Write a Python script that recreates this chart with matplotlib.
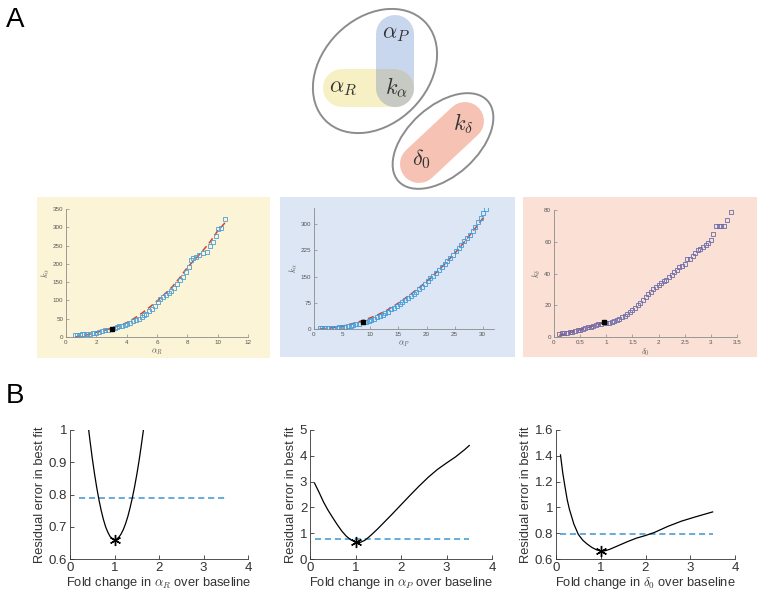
import matplotlib
matplotlib.use("Agg")
import matplotlib.pyplot as plt
from matplotlib.patches import Ellipse, Rectangle, Circle

plt.rcParams['font.family'] = ['Liberation Sans', 'DejaVu Sans']
plt.rcParams['mathtext.fontset'] = 'cm'

# ---------------- data: panel A scatter plots ----------------
aR_pts = [0.6, 0.75, 0.9, 1.05, 1.2, 1.4, 1.6, 1.8, 2.0, 2.2, 2.4, 2.6, 2.8, 3.2, 3.35, 3.5, 3.7, 3.9,
          4.05, 4.2, 4.4, 4.6, 4.8, 5.0, 5.15, 5.3, 5.5, 5.7, 5.9, 6.05, 6.2, 6.4, 6.6, 6.8, 6.95, 7.1,
          7.3, 7.5, 7.7, 7.9, 8.1, 8.25, 8.4, 8.6, 8.8, 9.0, 9.3, 9.5, 9.7, 9.9, 10.05, 10.2, 10.5]
kR_pts = [6, 6, 6, 7, 7, 8, 9, 10, 12, 14, 16, 18, 20, 24, 26, 29, 31, 34,
          36, 39, 43, 46, 50, 55, 59, 64, 70, 77, 84, 96, 103, 109, 114, 120, 126, 133,
          145, 156, 165, 178, 192, 210, 215, 220, 225, 230, 232, 248, 260, 275, 295, 297, 322]
aR_best = [3.0]
kR_best = [22]
aR_fit = [0.6, 1, 1.5, 2, 2.5, 3, 3.5, 4, 4.5, 5, 5.5, 6, 6.5, 7, 7.5, 8, 8.5, 9, 9.5, 10, 10.5]
kR_fit = [0, 3, 7, 13, 18, 24, 31, 39, 51, 65, 81, 98, 117, 137, 162, 190, 212, 235, 260, 290, 313]

aP_pts = [1, 1.5, 2, 2.5, 3, 3.5, 4, 4.5, 5, 5.5, 6, 6.5, 7, 7.5, 8, 9.2, 9.7, 10.2, 10.7, 11.2,
          11.7, 12.2, 12.7, 13.2, 13.7, 14.2, 14.7, 15.2, 15.7, 16.2, 16.7, 17.2, 17.7, 18.2, 18.7,
          19.2, 19.7, 20.2, 20.7, 21.2, 21.7, 22.2, 22.7, 23.2, 23.7, 24.2, 24.7, 25.2, 25.7, 26.2,
          26.7, 27.2, 27.7, 28.2, 28.7, 29.2, 29.6, 30.0, 30.5]
kP_pts = [2, 2, 2, 3, 3, 4, 4, 5, 6, 7, 8, 10, 11, 13, 15, 21, 23, 26, 29, 33,
          37, 41, 45, 50, 56, 61, 66, 71, 77, 82, 88, 94, 100, 107, 114,
          121, 129, 137, 145, 152, 160, 168, 177, 187, 195, 204, 213, 222, 231, 241,
          251, 260, 270, 280, 293, 305, 318, 331, 342]
aP_best = [8.7]
kP_best = [20]
aP_fit = [1, 3, 5, 7, 9, 11, 13, 15, 17, 19, 21, 23, 25, 27, 29, 30.5]
kP_fit = [0, 3, 8, 16, 26, 38, 54, 74, 97, 122, 150, 182, 216, 254, 295, 327]

d0_pts = [0.1, 0.15, 0.2, 0.25, 0.3, 0.35, 0.4, 0.45, 0.5, 0.55, 0.6, 0.65, 0.7, 0.75, 0.8, 0.85,
          0.9, 1.0, 1.05, 1.1, 1.15, 1.2, 1.25, 1.3, 1.35, 1.4, 1.45, 1.5, 1.55, 1.6, 1.65, 1.7,
          1.75, 1.8, 1.85, 1.9, 1.95, 2.0, 2.05, 2.1, 2.15, 2.2, 2.25, 2.3, 2.35, 2.4, 2.45, 2.5,
          2.55, 2.6, 2.65, 2.7, 2.75, 2.8, 2.85, 2.9, 2.95, 3.0, 3.05, 3.1, 3.15, 3.2, 3.25, 3.3, 3.38]
kd_pts = [2, 2.3, 2.6, 2.8, 3, 3.3, 3.7, 4.1, 4.5, 5, 5.5, 6, 6.5, 7, 7.5, 8,
          8.5, 9, 9, 9.5, 10, 10.5, 11.5, 12.5, 13.5, 14.5, 15.5, 17, 18.5, 20, 21.5, 23,
          25, 27, 28.5, 30, 31.5, 33, 34, 35, 36, 37.5, 39, 41, 42.5, 44, 45, 46,
          49, 49, 51, 53, 55, 55.5, 57, 58, 59, 61, 65, 70, 70, 70, 70, 74, 79]
d0_best = [0.95]
kd_best = [9.4]
d0_fit = [0.1, 0.3, 0.5, 0.7, 0.9, 0.95]
kd_fit = [1, 2.8, 4.6, 6.5, 8.5, 9]

# ---------------- data: panel B residual curves ----------------
foldR = [0.42, 0.45, 0.5, 0.55, 0.6, 0.65, 0.7, 0.75, 0.8, 0.85, 0.9, 0.95, 1.0,
         1.05, 1.1, 1.15, 1.2, 1.25, 1.3, 1.35, 1.4, 1.45, 1.5, 1.55, 1.6, 1.65]
resR = [1.000, 0.966, 0.913, 0.865, 0.822, 0.784, 0.751, 0.723, 0.700, 0.683, 0.670, 0.663, 0.660,
        0.662, 0.668, 0.678, 0.692, 0.710, 0.732, 0.759, 0.789, 0.823, 0.861, 0.903, 0.950, 1.000]
foldP = [0.1, 0.2, 0.3, 0.4, 0.5, 0.6, 0.7, 0.8, 0.9, 1.0, 1.1, 1.2, 1.3, 1.4, 1.5, 1.6,
         1.8, 2.0, 2.2, 2.4, 2.6, 2.8, 3.0, 3.2, 3.4, 3.5]
resP = [2.94, 2.58, 2.2, 1.88, 1.6, 1.33, 1.08, 0.88, 0.74, 0.66, 0.64, 0.72, 0.86, 1.02, 1.19, 1.37,
        1.73, 2.1, 2.47, 2.83, 3.17, 3.47, 3.72, 3.96, 4.24, 4.4]
foldD = [0.1, 0.15, 0.2, 0.25, 0.3, 0.4, 0.5, 0.6, 0.7, 0.8, 0.9, 1.0, 1.1, 1.2, 1.4, 1.6,
         1.8, 2.0, 2.2, 2.5, 2.8, 3.1, 3.5]
resD = [1.407, 1.27, 1.162, 1.06, 0.985, 0.87, 0.79, 0.745, 0.715, 0.69, 0.672, 0.662, 0.664, 0.675,
        0.705, 0.735, 0.762, 0.782, 0.806, 0.853, 0.893, 0.925, 0.965]
thrR, thrP, thrD = 0.79, 0.78, 0.79
thr_startR, thr_startP, thr_startD = 0.2, 0.1, 0.1
thr_end = 3.5
best_fold = 1.0
bestR, bestP, bestD = 0.66, 0.65, 0.66

W, H = 762, 595
fig = plt.figure(figsize=(W / 100, H / 100), dpi=100)

# overlay axes in pixel coordinates for the diagram and backgrounds
ax0 = fig.add_axes([0, 0, 1, 1])
ax0.set_xlim(0, W)
ax0.set_ylim(H, 0)
ax0.axis('off')
ax0.set_zorder(0)

ax0.add_patch(Rectangle((37, 197), 233, 161, color='#fcf4d7', lw=0, zorder=0))
ax0.add_patch(Rectangle((280, 197), 235, 160, color='#dde6f4', lw=0, zorder=0))
ax0.add_patch(Rectangle((523, 197), 234, 160, color='#fbe0d6', lw=0, zorder=0))

pill_lw = 38 * 72 / 100
ax0.plot([395, 395], [34, 88], color='#c8d7ee', lw=pill_lw, solid_capstyle='round', zorder=1)
ax0.plot([342, 395], [88, 88], color='#f6f0c4', lw=pill_lw, solid_capstyle='round', zorder=1.5)
ax0.add_patch(Circle((395, 88), 19, color='#c7c9c3', lw=0, zorder=2))
ax0.add_patch(Rectangle((376, 69), 19, 19, color='#c7c9c3', lw=0, zorder=2))
ax0.plot([419, 465], [164, 121], color='#f6c2b4', lw=pill_lw, solid_capstyle='round', zorder=1)

ax0.add_patch(Ellipse((375, 71), 140, 106, angle=-45, fill=False, ec='#8c8c8c', lw=1.4, zorder=3))
ax0.add_patch(Ellipse((443, 141), 120, 70, angle=-42, fill=False, ec='#8c8c8c', lw=1.4, zorder=3))

dcol = '#333333'
ax0.text(396, 34, r'$\alpha_P$', fontsize=16, ha='center', va='center', color=dcol, zorder=4)
ax0.text(343, 88, r'$\alpha_R$', fontsize=16, ha='center', va='center', color=dcol, zorder=4)
ax0.text(396, 88, r'$k_\alpha$', fontsize=16, ha='center', va='center', color=dcol, zorder=4)
ax0.text(463, 124, r'$k_\delta$', fontsize=16, ha='center', va='center', color=dcol, zorder=4)
ax0.text(421, 159, r'$\delta_0$', fontsize=16, ha='center', va='center', color=dcol, zorder=4)

ax0.text(6, 20, 'A', fontsize=20, ha='left', va='center', color='black')
ax0.text(6, 396, 'B', fontsize=20, ha='left', va='center', color='black')

# ---------------- panel A small axes ----------------


def style_small(ax):
    ax.set_facecolor('none')
    for s in ['top', 'right']:
        ax.spines[s].set_visible(False)
    for s in ['left', 'bottom']:
        ax.spines[s].set_color('#8a8a8a')
        ax.spines[s].set_linewidth(0.6)
    ax.tick_params(direction='in', length=2, width=0.5, labelsize=4.5,
                   colors='#8a8a8a', labelcolor='#555555', pad=2)


def fx(px):
    return px / W


def fy(py):
    return 1 - py / H


sq_kw = dict(marker='s', ms=3, mfc='none', mew=0.6, ls='none')

ax1 = fig.add_axes([fx(66), fy(337), fx(248 - 66), (337 - 209) / H])
ax1.set_zorder(1)
style_small(ax1)
ax1.plot(aR_fit, kR_fit, ls=(0, (4, 2.5)), color='#d8412c', lw=1.1)
ax1.plot(aR_pts, kR_pts, mec='#4a9ed6', **sq_kw)
ax1.plot(aR_best, kR_best, marker='s', ms=3.2, color='black', ls='none')
ax1.set_xlim(0, 12)
ax1.set_ylim(0, 350)
ax1.set_xticks(range(0, 13, 2))
ax1.set_yticks(range(0, 351, 50))
ax1.set_xlabel(r'$\alpha_R$', fontsize=6, color='#555555', labelpad=1)
ax1.set_ylabel(r'$k_\alpha$', fontsize=6, color='#555555', labelpad=1)

ax2 = fig.add_axes([fx(314), fy(329), fx(494 - 314), (329 - 208) / H])
ax2.set_zorder(1)
style_small(ax2)
ax2.plot(aP_fit, kP_fit, ls=(0, (4, 2.5)), color='#d8412c', lw=1.1)
ax2.plot(aP_pts, kP_pts, mec='#3d9ad8', **sq_kw)
ax2.plot(aP_best, kP_best, marker='s', ms=3.2, color='black', ls='none')
ax2.set_xlim(0, 32)
ax2.set_ylim(0, 346)
ax2.set_xticks(range(0, 31, 5))
ax2.set_yticks([0, 75, 150, 225, 300])
ax2.set_xlabel(r'$\alpha_P$', fontsize=6, color='#555555', labelpad=1)
ax2.set_ylabel(r'$k_\alpha$', fontsize=6, color='#555555', labelpad=1)

ax3 = fig.add_axes([fx(554), fy(337), fx(737 - 554), (337 - 210) / H])
ax3.set_zorder(1)
style_small(ax3)
ax3.plot(d0_fit, kd_fit, ls=(0, (4, 2.5)), color='#d8412c', lw=1.1)
ax3.plot(d0_pts, kd_pts, mec='#6a6aa8', **sq_kw)
ax3.plot(d0_best, kd_best, marker='s', ms=3.2, color='black', ls='none')
ax3.set_xlim(0, 3.5)
ax3.set_ylim(0, 80)
ax3.set_xticks([0, 0.5, 1, 1.5, 2, 2.5, 3, 3.5])
ax3.set_xticklabels(['0', '0.5', '1', '1.5', '2', '2.5', '3', '3.5'])
ax3.set_yticks(range(0, 81, 20))
ax3.set_xlabel(r'$\delta_0$', fontsize=6, color='#555555', labelpad=1)
ax3.set_ylabel(r'$k_\delta$', fontsize=6, color='#555555', labelpad=1)

# ---------------- panel B ----------------
dash_col = '#3d95cf'


def style_b(ax):
    ax.set_facecolor('none')
    for s in ['top', 'right']:
        ax.spines[s].set_visible(False)
    for s in ['left', 'bottom']:
        ax.spines[s].set_color('#333333')
        ax.spines[s].set_linewidth(0.6)
    ax.tick_params(direction='in', length=3, width=0.6, labelsize=9.5,
                   colors='#333333', labelcolor='#333333', pad=2)


bdefs = [
    (70, 248, foldR, resR, thrR, thr_startR, bestR, (0.6, 1.0), [0.6, 0.7, 0.8, 0.9, 1.0],
     ['0.6', '0.7', '0.8', '0.9', '1'], r'Fold change in $\alpha_R$ over baseline'),
    (310, 492, foldP, resP, thrP, thr_startP, bestP, (0, 5), [0, 1, 2, 3, 4, 5],
     ['0', '1', '2', '3', '4', '5'], r'Fold change in $\alpha_P$ over baseline'),
    (556, 735, foldD, resD, thrD, thr_startD, bestD, (0.6, 1.6), [0.6, 0.8, 1.0, 1.2, 1.4, 1.6],
     ['0.6', '0.8', '1', '1.2', '1.4', '1.6'], r'Fold change in $\delta_0$ over baseline'),
]
for (l, r, xs, ys, thr, t0, best, ylim, yt, ytl, xl) in bdefs:
    ax = fig.add_axes([fx(l), fy(559), fx(r - l), (559 - 430) / H])
    ax.set_zorder(1)
    style_b(ax)
    ax.plot([t0, thr_end], [thr, thr], ls=(0, (4, 2.5)), color=dash_col, lw=1.1)
    ax.plot(xs, ys, color='black', lw=0.9)
    ax.plot([best_fold], [best], marker=(6, 2, 0), ms=8, color='black', ls='none', mew=1.0)
    ax.set_xlim(0, 4)
    ax.set_ylim(*ylim)
    ax.set_xticks([0, 1, 2, 3, 4])
    ax.set_yticks(yt)
    ax.set_yticklabels(ytl)
    ax.set_xlabel(xl, fontsize=9.3, color='#333333', labelpad=1)
    ax.set_ylabel('Residual error in best fit', fontsize=9.3, color='#333333', labelpad=2)

fig.savefig('out.png', dpi=100)
